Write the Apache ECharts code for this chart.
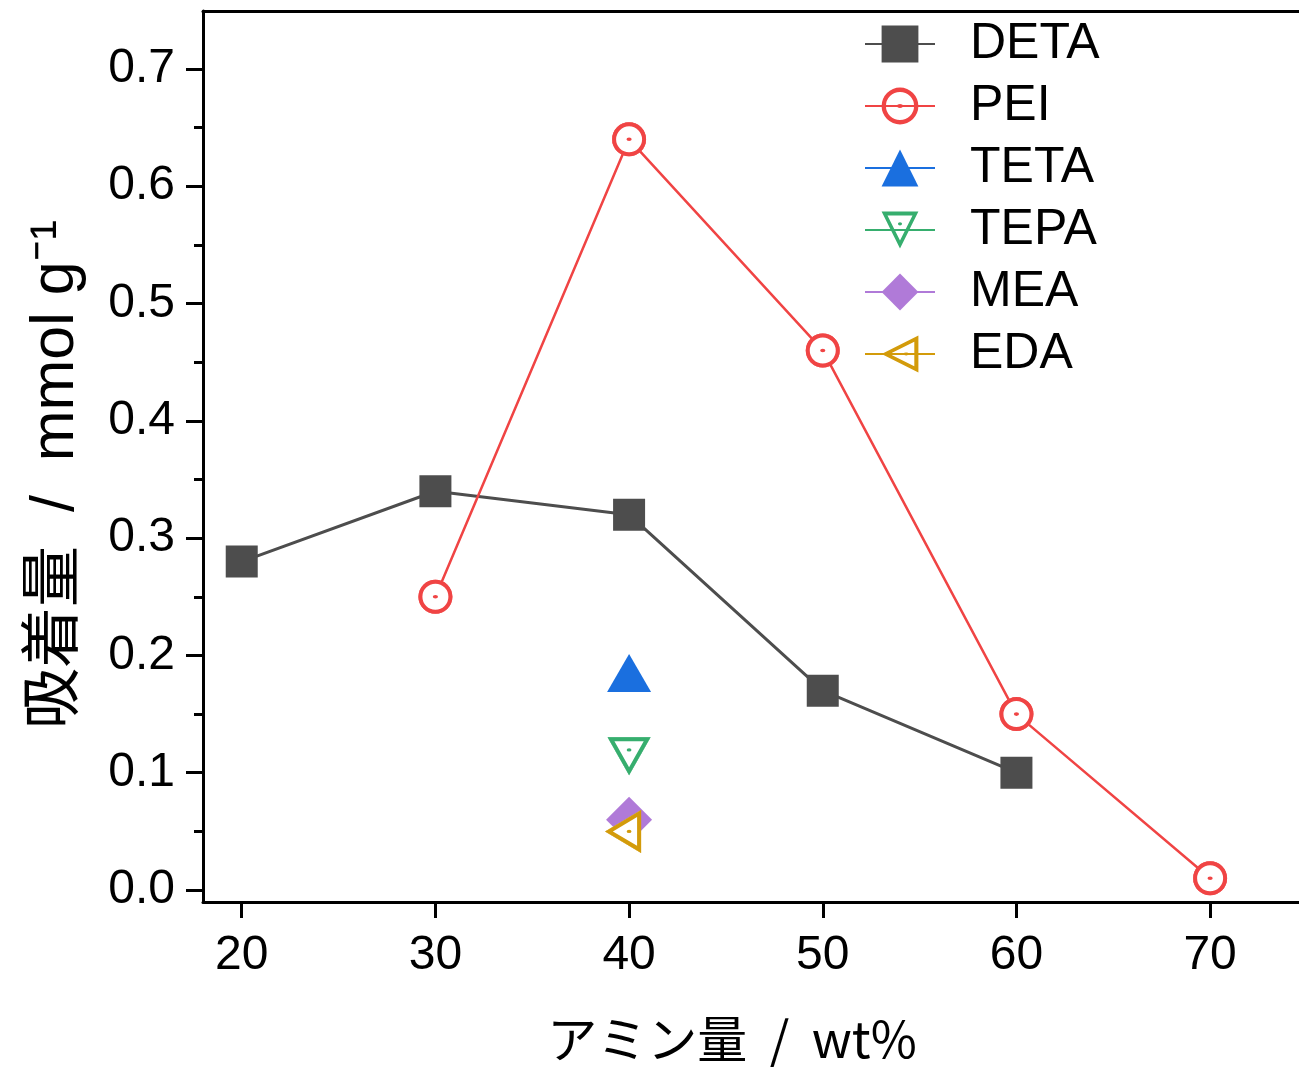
<!DOCTYPE html>
<html><head><meta charset="utf-8">
<script src="https://cdn.jsdelivr.net/npm/echarts@6/dist/echarts.min.js"></script>
<style>html,body{margin:0;padding:0;background:#fff}#c{width:1299px;height:1071px}</style>
</head><body><div id="c"></div>
<script>
const xTicks = [20, 30, 40, 50, 60, 70];
const yTicks = [0, 0.1, 0.2, 0.3, 0.4, 0.5, 0.6, 0.7];
const yMinorTicks = [0.05, 0.15, 0.25, 0.35, 0.45, 0.55, 0.65];

const detaX = [20, 30, 40, 50, 60];
const detaY = [0.28, 0.34, 0.32, 0.17, 0.10];
const peiX = [30, 40, 50, 60, 70];
const peiY = [0.25, 0.64, 0.46, 0.15, 0.01];
const tetaX = [40];
const tetaY = [0.18];
const tepaX = [40];
const tepaY = [0.12];
const meaX = [40];
const meaY = [0.06];
const edaX = [40];
const edaY = [0.05];

const seriesNames = ['DETA', 'PEI', 'TETA', 'TEPA', 'MEA', 'EDA'];

const pair = (xs, ys) => xs.map((x, i) => [x, ys[i]]);

const ringCircle = 'path://M0 17A17 17 0 1 1 34 17A17 17 0 1 1 0 17ZM4 17A13 13 0 1 0 30 17A13 13 0 1 0 4 17ZM14.4 17A2.6 1.8 0 1 1 19.6 17A2.6 1.8 0 1 1 14.4 17Z';
const fillCircle = 'path://M0 17A17 17 0 1 1 34 17A17 17 0 1 1 0 17Z';
const ringDown = 'path://M0 0L43 0L21.5 38ZM6.86 4L21.5 29.88L36.14 4ZM19.1 12.6A2.4 1.7 0 1 1 23.9 12.6A2.4 1.7 0 1 1 19.1 12.6Z';
const fillDown = 'path://M0 0L43 0L21.5 38Z';
const ringLeft = 'path://M0 21.5L36 0L36 43ZM7.81 21.5L32 35.95L32 7.05ZM21.6 21.5A2.4 1.7 0 1 1 26.4 21.5A2.4 1.7 0 1 1 21.6 21.5Z';
const fillLeft = 'path://M0 21.5L36 0L36 43Z';

const FONT = "'Liberation Sans', Arial, 'Noto Sans CJK JP', sans-serif";
const FONT_JP = "'Noto Sans CJK JP', 'Liberation Sans', sans-serif";

const chart = echarts.init(document.getElementById('c'), null, {renderer: 'canvas'});

function mk(name, xs, ys, color, symbol, size, lw, offset, z) {
  return {
    name, type: 'line', data: pair(xs, ys),
    symbol, symbolSize: size, symbolOffset: offset || [0, 0],
    showSymbol: true, showAllSymbol: true,
    itemStyle: {color, borderWidth: 0},
    lineStyle: {color, width: lw},
    emphasis: {disabled: true},
    silent: true,
    z: z || 2
  };
}
function overlay(name, xs, ys, color, symbol, size, offset, z) {
  return {
    name, type: 'line', data: pair(xs, ys),
    symbol, symbolSize: size, symbolOffset: offset || [0, 0],
    showSymbol: true, showAllSymbol: true,
    itemStyle: {color, borderWidth: 0},
    lineStyle: {width: 0, opacity: 0},
    emphasis: {disabled: true},
    silent: true,
    z
  };
}

chart.setOption({
  animation: false,
  backgroundColor: '#fff',
  grid: {left: 203, right: -3, top: 11, bottom: 169, containLabel: false},
  legend: {
    orient: 'vertical', left: 864, top: 19, padding: 0,
    itemWidth: 70, itemHeight: 46, itemGap: 12,
    data: seriesNames,
    textStyle: {fontSize: 50, fontFamily: FONT, color: '#000', padding: [0, 0, 0, 30]}
  },
  xAxis: [{
    type: 'value', min: 18, max: 74.59, position: 'bottom',
    name: 'アミン量  /  wt%', nameLocation: 'middle', nameGap: 112,
    nameTextStyle: {fontSize: 50, fontFamily: FONT_JP, color: '#000', padding: [0, 38, 0, 0]},
    axisLine: {show: true, onZero: false, lineStyle: {color: '#000', width: 3}},
    axisTick: {show: true, customValues: xTicks, length: 16, lineStyle: {color: '#000', width: 3}},
    axisLabel: {customValues: xTicks, fontSize: 48, fontFamily: FONT, color: '#000', margin: 30},
    splitLine: {show: false}
  }, {
    type: 'value', min: 18, max: 74.59, position: 'top',
    axisLine: {show: true, onZero: false, lineStyle: {color: '#000', width: 3}},
    axisTick: {show: false}, axisLabel: {show: false}, splitLine: {show: false}
  }],
  yAxis: [{
    type: 'value', min: -0.0102, max: 0.7494, position: 'left',
    name: '吸着量  /  mmol g⁻¹', nameLocation: 'middle', nameGap: 116, nameRotate: 90,
    nameTextStyle: {fontSize: 61, fontFamily: FONT, color: '#000', padding: [0, 36, 0, 0]},
    axisLine: {show: true, onZero: false, lineStyle: {color: '#000', width: 3}},
    axisTick: {show: true, customValues: yTicks, length: 17, lineStyle: {color: '#000', width: 3}},
    axisLabel: {customValues: yTicks, fontSize: 48, fontFamily: FONT, color: '#000', margin: 28,
      formatter: v => v.toFixed(1)},
    splitLine: {show: false}
  }, {
    type: 'value', min: -0.0102, max: 0.7494, position: 'left', offset: 0,
    axisLine: {show: false},
    axisTick: {show: true, customValues: yMinorTicks, length: 9, lineStyle: {color: '#000', width: 3}},
    axisLabel: {show: false}, splitLine: {show: false}
  }],
  series: [
    mk('DETA', detaX, detaY, '#4d4d4d', 'rect', 32, 3),
    mk('PEI', peiX, peiY, '#f04444', ringCircle, 34, 2.5),
    mk('TETA', tetaX, tetaY, '#1a6fdf', 'triangle', [44, 38], 2.5, [0, -6]),
    mk('TEPA', tepaX, tepaY, '#36ae6e', ringDown, [43, 38], 2.5, [0, 7]),
    mk('MEA', meaX, meaY, '#b07ad8', 'diamond', [46, 46], 2.5),
    mk('EDA', edaX, edaY, '#d39b0a', ringLeft, [36, 43], 2.5, [-6, 0]),
    overlay('PEI-bg', peiX, peiY, '#ffffff', fillCircle, 33, [0, 0], 3),
    overlay('PEI-ring', peiX, peiY, '#f04444', ringCircle, 34, [0, 0], 4),
    overlay('TEPA-bg', tepaX, tepaY, '#ffffff', fillDown, [42, 37], [0, 7], 3),
    overlay('TEPA-ring', tepaX, tepaY, '#36ae6e', ringDown, [43, 38], [0, 7], 4),
    overlay('EDA-bg', edaX, edaY, '#ffffff', fillLeft, [35, 42], [-6, 0], 3),
    overlay('EDA-ring', edaX, edaY, '#d39b0a', ringLeft, [36, 43], [-6, 0], 4)
  ]
});
</script></body></html>
